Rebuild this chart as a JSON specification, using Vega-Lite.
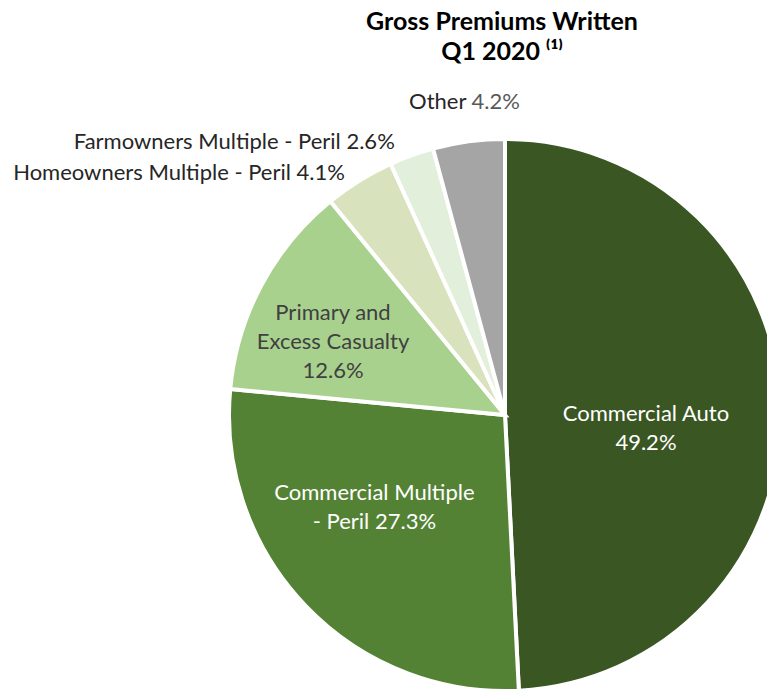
{
  "$schema": "https://vega.github.io/schema/vega-lite/v6.json",
  "autosize": "none",
  "width": 1010,
  "height": 670,
  "padding": {"left": 0, "top": 80, "right": 0, "bottom": 0},
  "background": "white",
  "title": {
    "text": ["Gross Premiums Written", "Q1 2020 ⁽¹⁾"],
    "anchor": "middle",
    "frame": "group",
    "font": "Lato",
    "fontSize": 25,
    "fontWeight": "bold",
    "color": "#000000",
    "lineHeight": 30,
    "offset": 15,
    "dx": -3
  },
  "data": {
    "values": [
      {"rank": 1, "category": "Commercial Auto", "value": 49.2, "label": "Commercial Auto\n49.2%"},
      {"rank": 2, "category": "Commercial Multiple - Peril", "value": 27.3, "label": "Commercial Multiple\n- Peril 27.3%"},
      {"rank": 3, "category": "Primary and Excess Casualty", "value": 12.6, "label": "Primary and\nExcess Casualty\n12.6%"},
      {"rank": 4, "category": "Homeowners Multiple - Peril", "value": 4.1, "label": "Homeowners Multiple - Peril 4.1%"},
      {"rank": 5, "category": "Farmowners Multiple - Peril", "value": 2.6, "label": "Farmowners Multiple - Peril 2.6%"},
      {"rank": 6, "category": "Other", "value": 4.2, "label": "Other", "pct": "4.2%"}
    ]
  },
  "encoding": {
    "theta": {"field": "value", "type": "quantitative", "stack": true},
    "order": {"field": "rank", "type": "quantitative"}
  },
  "layer": [
    {
      "mark": {"type": "arc", "radius": 276, "stroke": "white", "strokeWidth": 4},
      "encoding": {
        "color": {
          "field": "category",
          "type": "nominal",
          "sort": null,
          "scale": {
            "domain": ["Commercial Auto", "Commercial Multiple - Peril", "Primary and Excess Casualty", "Homeowners Multiple - Peril", "Farmowners Multiple - Peril", "Other"],
            "range": ["#3a5623", "#548235", "#a9d18e", "#d8e2bd", "#e2efda", "#a5a5a5"]
          },
          "legend": null
        }
      }
    },
    {
      "mark": {"type": "text", "radius": 141, "font": "Lato", "fontSize": 22, "lineHeight": 29, "color": "white", "align": "center", "baseline": "middle", "lineBreak": "\n", "dy": 3},
      "encoding": {"text": {"condition": {"test": "datum.category === 'Commercial Auto'", "field": "label"}, "value": ""}}
    },
    {
      "mark": {"type": "text", "radius": 160, "font": "Lato", "fontSize": 22, "lineHeight": 29, "color": "white", "align": "center", "baseline": "middle", "lineBreak": "\n", "dx": -15, "dy": -33},
      "encoding": {"text": {"condition": {"test": "datum.category === 'Commercial Multiple - Peril'", "field": "label"}, "value": ""}}
    },
    {
      "mark": {"type": "text", "radius": 187, "font": "Lato", "fontSize": 22, "lineHeight": 29, "color": "#404040", "align": "center", "baseline": "middle", "lineBreak": "\n", "dx": -7, "dy": -14},
      "encoding": {"text": {"condition": {"test": "datum.category === 'Primary and Excess Casualty'", "field": "label"}, "value": ""}}
    },
    {
      "mark": {"type": "text", "radius": 290, "font": "Lato", "fontSize": 22, "color": "#262626", "align": "right", "baseline": "middle", "dx": -7, "dy": 4},
      "encoding": {"text": {"condition": {"test": "datum.category === 'Homeowners Multiple - Peril'", "field": "label"}, "value": ""}}
    },
    {
      "mark": {"type": "text", "radius": 290, "font": "Lato", "fontSize": 22, "color": "#262626", "align": "right", "baseline": "middle", "dx": -12},
      "encoding": {"text": {"condition": {"test": "datum.category === 'Farmowners Multiple - Peril'", "field": "label"}, "value": ""}}
    },
    {
      "mark": {"type": "text", "radius": 316, "font": "Lato", "fontSize": 22, "color": "#262626", "align": "right", "baseline": "middle", "dx": 3},
      "encoding": {"text": {"condition": {"test": "datum.category === 'Other'", "field": "label"}, "value": ""}}
    },
    {
      "mark": {"type": "text", "radius": 316, "font": "Lato", "fontSize": 22, "color": "#595959", "align": "left", "baseline": "middle", "dx": 8},
      "encoding": {"text": {"condition": {"test": "datum.category === 'Other'", "field": "pct"}, "value": ""}}
    }
  ]
}
